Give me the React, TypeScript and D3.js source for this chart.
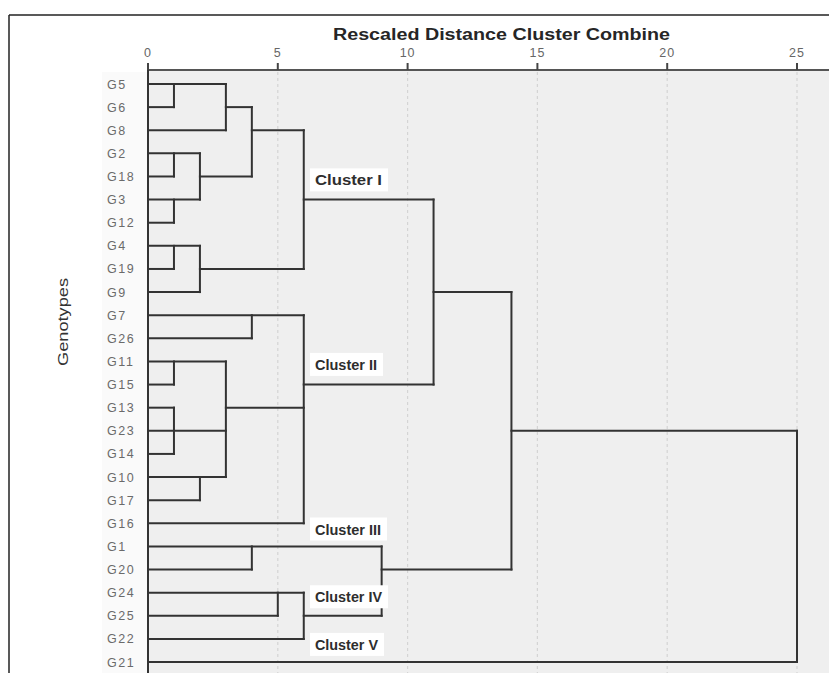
import React from "react";
import * as d3 from "d3";

const genotypes = ["G5","G6","G8","G2","G18","G3","G12","G4","G19","G9","G7","G26","G11","G15","G13","G23","G14","G10","G17","G16","G1","G20","G24","G25","G22","G21"];

const distanceTicks = [0, 5, 10, 15, 20, 25];

// horizontal links: [row genotype, from distance, to distance]
const hLinks: [string, number, number][] = [
  ["G5",0,3],["G6",0,1],["G6",3,4],["G8",0,3],["G8",4,6],
  ["G2",0,2],["G18",0,1],["G18",2,4],["G3",0,2],["G3",6,11],["G12",0,1],
  ["G4",0,2],["G19",0,1],["G19",2,6],["G9",0,2],["G9",11,14],
  ["G7",0,6],["G26",0,4],["G11",0,3],["G15",0,1],["G15",6,11],
  ["G13",0,1],["G13",3,6],["G23",0,3],["G23",14,25],["G14",0,1],
  ["G10",0,3],["G17",0,2],["G16",0,6],
  ["G1",0,9],["G20",0,4],["G20",9,14],
  ["G24",0,6],["G25",0,5],["G25",6,9],["G22",0,6],["G21",0,25]
];

// vertical joins: [distance, top genotype, bottom genotype]
const vLinks: [number, string, string][] = [
  [1,"G5","G6"],[3,"G5","G8"],[4,"G6","G18"],[1,"G2","G18"],[1,"G3","G12"],[2,"G2","G3"],
  [6,"G8","G19"],[1,"G4","G19"],[2,"G4","G9"],
  [4,"G7","G26"],[1,"G11","G15"],[1,"G13","G14"],[2,"G10","G17"],[3,"G11","G10"],[6,"G7","G16"],
  [11,"G3","G15"],[14,"G9","G20"],
  [4,"G1","G20"],[5,"G24","G25"],[6,"G24","G22"],[9,"G1","G25"],[25,"G23","G21"]
];

// cluster labels: [text, row position (index), text width]
const clusterLabels: [string, number, number][] = [
  ["Cluster I", 4.17, 67],
  ["Cluster II", 12.15, 62],
  ["Cluster III", 19.27, 66],
  ["Cluster IV", 22.2, 67],
  ["Cluster V", 24.26, 63]
];

export default function App() {
  const W = 829, H = 673;
  const x = d3.scaleLinear().domain([0, 25]).range([148, 797]);
  const yIdx = d3.scaleLinear().domain([0, genotypes.length - 1]).range([84, 662]);
  const y = (g: string) => yIdx(genotypes.indexOf(g));
  const lineColor = "#333";
  const font = "'Liberation Sans', Arial, sans-serif";

  return (
    <svg width={W} height={H} style={{ position: "absolute", left: 0, top: 0, background: "#fff" }}>
      {/* label area background */}
      <rect x={102} y={72} width={46} height={H - 72} fill="#fafafa" />
      {/* plot background */}
      <rect x={x(0)} y={71} width={W - x(0)} height={H - 71} fill="#efefef" />
      {/* gridlines */}
      {distanceTicks.filter(t => t > 0).map(t => (
        <line key={"g" + t} x1={x(t)} x2={x(t)} y1={72} y2={H} stroke="#d4d4d4" strokeWidth={1.2} strokeDasharray="3,3" />
      ))}
      {/* frame */}
      <line x1={9} x2={W} y1={15} y2={15} stroke="#222" strokeWidth={1.5} />
      <line x1={9} x2={9} y1={15} y2={H} stroke="#222" strokeWidth={1.5} />
      {/* title */}
      <text x={(333 + 670) / 2} y={40} textAnchor="middle" fontFamily={font} fontWeight="bold" fontSize={16} fill="#262626" textLength={337} lengthAdjust="spacingAndGlyphs">Rescaled Distance Cluster Combine</text>
      {/* axis */}
      <line x1={x(0)} x2={W} y1={70} y2={70} stroke="#555" strokeWidth={2} />
      {distanceTicks.map(t => (
        <g key={"t" + t}>
          <line x1={x(t)} x2={x(t)} y1={63} y2={70} stroke="#444" strokeWidth={2} />
          <text x={x(t)} y={57} textAnchor="middle" fontFamily={font} fontSize={12.5} fill="#666" letterSpacing={1}>{t}</text>
        </g>
      ))}
      {/* left baseline */}
      <line x1={x(0)} x2={x(0)} y1={70} y2={H} stroke={lineColor} strokeWidth={2} />
      {/* y label */}
      <text transform={`translate(68,322) rotate(-90)`} textAnchor="middle" fontFamily={font} fontSize={15} fill="#333" textLength={88} lengthAdjust="spacingAndGlyphs">Genotypes</text>
      {/* row labels */}
      {genotypes.map(g => (
        <text key={g} x={107} y={y(g) + 4.5} fontFamily={font} fontSize={12.5} fill="#6a6a6a" letterSpacing={1.6}>{g}</text>
      ))}
      {/* links */}
      {hLinks.map((h, i) => (
        <line key={"h" + i} x1={x(h[1])} x2={x(h[2])} y1={y(h[0])} y2={y(h[0])} stroke={lineColor} strokeWidth={2} strokeLinecap="square" />
      ))}
      {vLinks.map((v, i) => (
        <line key={"v" + i} x1={x(v[0])} x2={x(v[0])} y1={y(v[1])} y2={y(v[2])} stroke={lineColor} strokeWidth={2} strokeLinecap="square" />
      ))}
      {/* cluster labels */}
      {clusterLabels.map(([t, r, w]) => {
        const cx = 315;
        const cy = yIdx(r);
        return (
          <g key={t}>
            <rect x={cx - 5} y={cy - 12} width={w + 11} height={23} fill="#fff" />
            <text x={cx} y={cy + 5} fontFamily={font} fontWeight="bold" fontSize={14} fill="#2e2e2e" textLength={w} lengthAdjust="spacingAndGlyphs">{t}</text>
          </g>
        );
      })}
    </svg>
  );
}
